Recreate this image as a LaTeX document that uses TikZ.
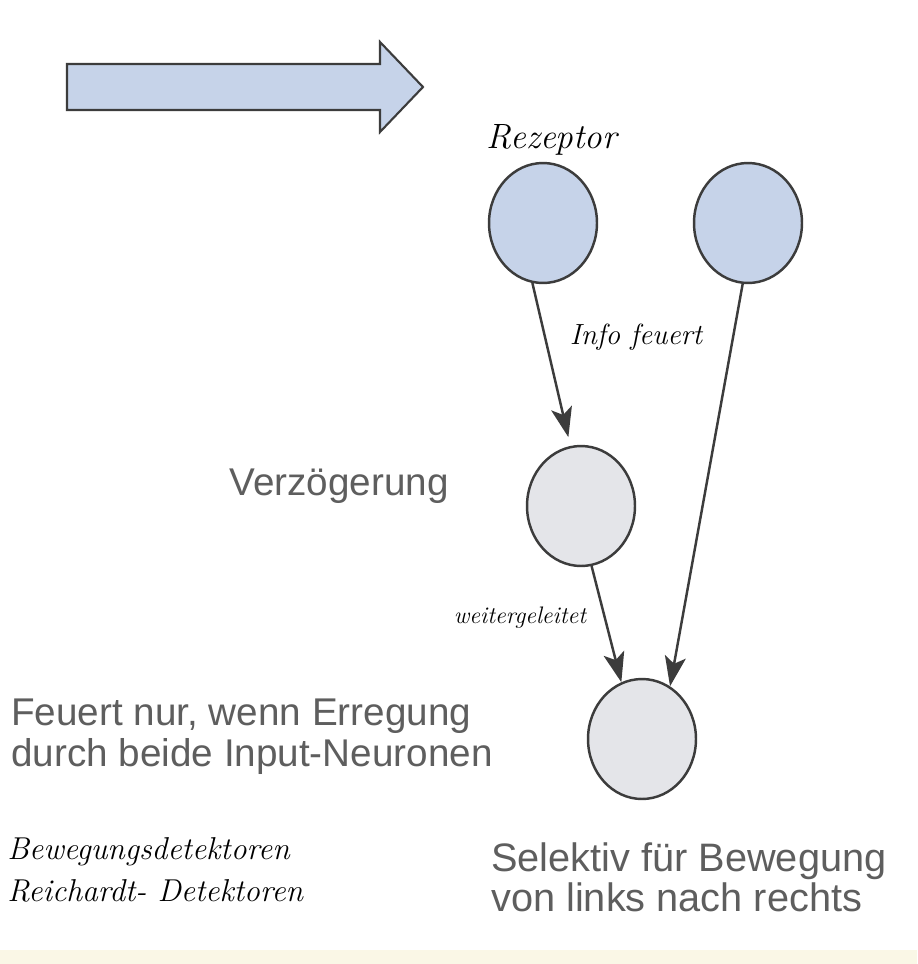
\documentclass[tikz,border=0pt]{standalone}
\usepackage{fontspec}
\setsansfont{Liberation Sans}
\usetikzlibrary{shapes.geometric,arrows.meta}

\definecolor{zellblau}{HTML}{C6D3E9}
\definecolor{zellgrau}{HTML}{E4E5E9}
\definecolor{linie}{HTML}{3C3C3C}
\definecolor{schrift}{HTML}{5E5E5E}
\definecolor{creme}{HTML}{FAF7E6}

\begin{document}
\begin{tikzpicture}[x=0.02cm,y=-0.02cm]

\tikzset{zelle/.style={ellipse,draw=linie,line width=1.4pt,minimum width=2.16cm,minimum height=2.4cm,inner sep=0pt}};
\tikzset{rezeptor/.style={zelle,fill=zellblau}};
\tikzset{neuron/.style={zelle,fill=zellgrau}};
\tikzset{feuer/.style={-{Stealth[length=17pt,width=12pt,inset=4pt]},draw=linie,line width=1.4pt}};
\tikzset{etikett/.style={text=schrift,font=\sffamily\fontsize{22}{23}\selectfont,inner sep=0pt}};
\tikzset{notiz/.style={font=\itshape\fontsize{18}{24}\selectfont,inner sep=0pt}};

\fill[white] (0,0) rectangle (917,964);
\fill[creme] (0,950) rectangle (917,964);
\useasboundingbox (0,0) rectangle (917,964);

% Bewegungsrichtung
\draw[fill=zellblau,draw=linie,line width=1.2pt] (67,64) -- (380,64) -- (380,42) -- (423,87) -- (380,132) -- (380,110) -- (67,110) -- cycle;

\node[rezeptor] (rezL) at (543,223) {};
\node[rezeptor] (rezR) at (748,223) {};
\node[neuron] (verz) at (581,506) {};
\node[neuron] (ziel) at (642,739) {};

\draw[feuer,shorten >=0.18cm] (rezL.-100) -- (verz.100);
\draw[feuer] (verz.-80) -- (ziel.110);
\draw[feuer] (rezR.-95) -- (ziel.62);

%\node[notiz] at (552,140) {Rezeptor};
\node[notiz,font=\itshape\fontsize{20}{22}\selectfont] (rezText) at (552,140) {Rezeptor};
\node[notiz,font=\itshape\fontsize{16.6}{18}\selectfont] (info) at (636,337) {Info feuert};
\node[notiz,font=\itshape\fontsize{13.6}{15}\selectfont] (weiter) at (520,618) {weitergeleitet};

\node[etikett,anchor=base west] (verzText) at (229,495) {Verzögerung};
\node[etikett,anchor=north west,align=left] (feuert) at (11,699) {Feuert nur, wenn Erregung\\durch beide Input-Neuronen};
\node[notiz,anchor=west,align=left] (bewegung) at (7,870) {Bewegungsdetektoren\\Reichardt- Detektoren};
\node[etikett,anchor=north west,align=left,font=\sffamily\fontsize{22.6}{23}\selectfont] (selektiv) at (491,842) {Selektiv für Bewegung\\von links nach rechts};

\end{tikzpicture}
\end{document}
